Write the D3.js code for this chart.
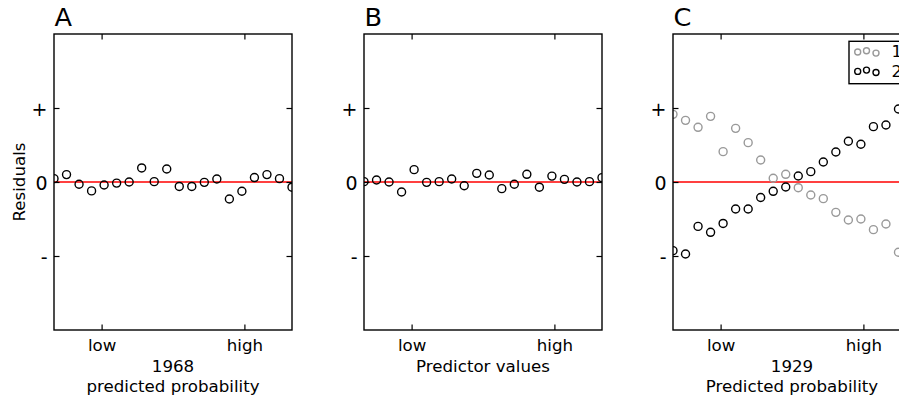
<!DOCTYPE html>
<html>
<head>
<meta charset="utf-8">
<script src="https://cdn.jsdelivr.net/npm/d3@7"></script>
<style>
  body { margin: 0; background: #fff; }
  svg { display: block; font-family: "DejaVu Sans", sans-serif; }
</style>
</head>
<body>
<div id="chart"></div>
<script>
// tick positions / labels
var xTicks = [0.2, 0.8];
var xTickLabels = ["low", "high"];
var yTicks = [-1, 0, 1];
var yTickLabels = ["-", "0", "+"];

// residuals (points are evenly spaced over the x range)
var residA = [0.045, 0.10, -0.03, -0.12, -0.04, -0.015, 0.0, 0.19, 0.005, 0.175,
  -0.06, -0.06, -0.005, 0.04, -0.23, -0.125, 0.06, 0.10, 0.045, -0.07];
var residB = [0.005, 0.027, 0.0, -0.135, 0.167, -0.005, 0.005, 0.04, -0.05, 0.117,
  0.095, -0.09, -0.03, 0.104, -0.07, 0.08, 0.036, 0.0, 0.005, 0.059];
var residC1 = [0.914, 0.833, 0.739, 0.887, 0.41, 0.725, 0.532, 0.297, 0.05, 0.104,
  -0.077, -0.176, -0.225, -0.41, -0.514, -0.5, -0.644, -0.568, -0.95];
var residC2 = [-0.928, -0.973, -0.6, -0.68, -0.56, -0.365, -0.365, -0.21, -0.126, -0.068,
  0.081, 0.14, 0.27, 0.405, 0.55, 0.51, 0.748, 0.77, 0.986];
var nPoints = 20;

var legendNames = ["1", "2"];
var legendColors = ["#999999", "#000000"];

var W = 899, H = 395;
var plotW = 238, plotTop = 34, plotBottom = 330;
var fontLabel = 16.67;

var panels = [
  { letter: "A", left: 54, xlabel: ["1968", "predicted probability"], ylabel: "Residuals",
    series: [{ values: residA, color: "#000" }] },
  { letter: "B", left: 364, xlabel: ["Predictor values"],
    series: [{ values: residB, color: "#000" }] },
  { letter: "C", left: 673, xlabel: ["1929", "Predicted probability"], legend: true,
    series: [{ values: residC1, color: legendColors[0] }, { values: residC2, color: legendColors[1] }] }
];

var svg = d3.select("#chart").append("svg")
  .attr("width", W)
  .attr("height", H);

var y = d3.scaleLinear().domain([-2, 2]).range([plotBottom, plotTop]);

panels.forEach(function (p, pi) {
  var x = d3.scaleLinear().domain([0, 1]).range([p.left, p.left + plotW]);
  var g = svg.append("g");

  var clipId = "clip" + pi;
  svg.append("clipPath").attr("id", clipId)
    .append("rect")
    .attr("x", p.left).attr("y", plotTop)
    .attr("width", plotW).attr("height", plotBottom - plotTop);

  // red zero line
  g.append("line")
    .attr("x1", x(0)).attr("x2", x(1))
    .attr("y1", y(0)).attr("y2", y(0))
    .attr("stroke", "red")
    .attr("stroke-width", 1.4)
    .attr("clip-path", "url(#" + clipId + ")");

  // points
  p.series.forEach(function (s) {
    g.append("g")
      .attr("clip-path", "url(#" + clipId + ")")
      .selectAll("circle")
      .data(s.values)
      .enter().append("circle")
      .attr("cx", function (d, i) { return x(i / (nPoints - 1)); })
      .attr("cy", function (d) { return y(d); })
      .attr("r", 4)
      .attr("fill", "none")
      .attr("stroke", s.color)
      .attr("stroke-width", 1.4);
  });

  // axes, ticks inward on every side
  var tl = 5.5;
  var axB = g.append("g").attr("transform", "translate(0," + plotBottom + ")")
    .call(d3.axisBottom(x).tickValues(xTicks).tickSize(-tl).tickPadding(8)
      .tickFormat(function (d, i) { return xTickLabels[i]; }));
  var axT = g.append("g").attr("transform", "translate(0," + plotTop + ")")
    .call(d3.axisTop(x).tickValues(xTicks).tickSize(-tl).tickFormat(""));
  var axL = g.append("g").attr("transform", "translate(" + p.left + ",0)")
    .call(d3.axisLeft(y).tickValues(yTicks).tickSize(-tl).tickPadding(6.5)
      .tickFormat(function (d, i) { return yTickLabels[i]; }));
  var axR = g.append("g").attr("transform", "translate(" + (p.left + plotW) + ",0)")
    .call(d3.axisRight(y).tickValues(yTicks).tickSize(-tl).tickFormat(""));

  [axB, axT, axL, axR].forEach(function (a) {
    a.select(".domain").remove();
    a.selectAll(".tick line").attr("stroke", "#000").attr("stroke-width", 1.2);
  });
  axB.selectAll(".tick text")
    .attr("font-size", fontLabel).attr("font-family", "DejaVu Sans")
    .attr("fill", "#000").attr("dy", null).attr("y", 21);
  axL.selectAll(".tick text")
    .attr("font-size", 19).attr("font-family", "DejaVu Sans")
    .attr("fill", "#000").attr("dy", null).attr("dominant-baseline", "central");

  // frame
  g.append("rect")
    .attr("x", p.left).attr("y", plotTop)
    .attr("width", plotW).attr("height", plotBottom - plotTop)
    .attr("fill", "none")
    .attr("stroke", "#000")
    .attr("stroke-width", 1.4);

  // panel letter
  g.append("text")
    .attr("x", p.left + 0.5).attr("y", 26)
    .attr("font-size", 25.6)
    .text(p.letter);

  // x label (one or two lines)
  p.xlabel.forEach(function (t, i) {
    g.append("text")
      .attr("x", p.left + plotW / 2)
      .attr("y", 372 + i * 19.5)
      .attr("text-anchor", "middle")
      .attr("font-size", fontLabel)
      .text(t);
  });

  if (p.ylabel) {
    g.append("text")
      .attr("transform", "translate(25," + ((plotTop + plotBottom) / 2) + ") rotate(-90)")
      .attr("text-anchor", "middle")
      .attr("font-size", fontLabel)
      .text(p.ylabel);
  }

  if (p.legend) {
    var lg = g.append("g");
    lg.append("rect")
      .attr("x", 849).attr("y", 41.3)
      .attr("width", 120).attr("height", 42.4)
      .attr("fill", "#fff")
      .attr("stroke", "#000")
      .attr("stroke-width", 1.4);
    var mx = [857.7, 866.5, 876];
    var my = [0.7, -0.6, 1.8];
    legendNames.forEach(function (name, i) {
      var cy = 51.3 + i * 19.4;
      mx.forEach(function (cx, k) {
        lg.append("circle")
          .attr("cx", cx).attr("cy", cy + my[k])
          .attr("r", 3)
          .attr("fill", "none")
          .attr("stroke", legendColors[i])
          .attr("stroke-width", 1.4);
      });
      lg.append("text")
        .attr("x", 891.5).attr("y", cy + 0.5)
        .attr("dominant-baseline", "central")
        .attr("font-size", fontLabel)
        .text(name);
    });
  }
});
</script>
</body>
</html>
